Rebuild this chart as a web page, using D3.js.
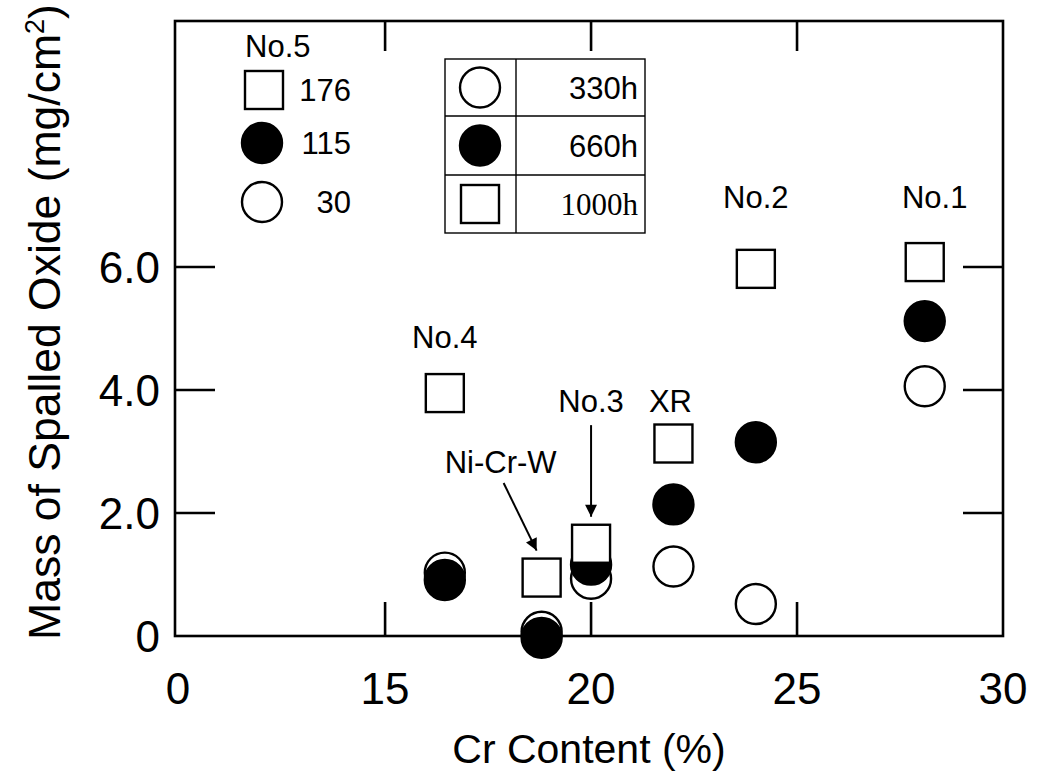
<!DOCTYPE html>
<html lang="en">
<head>
  <meta charset="UTF-8">
  <title>Mass of Spalled Oxide vs Cr Content</title>
  <style>
    body { margin: 0; background: #fff; }
    svg text { font-family: "Liberation Sans", Arial, Helvetica, sans-serif; fill: #000; }
    .frame { fill: none; stroke: #000; stroke-width: 2.6px; }
    .tick { stroke: #000; stroke-width: 2.6px; }
    .mk { stroke: #000; stroke-width: 2.4px; }
    .tbl { stroke: #000; stroke-width: 1.4px; fill: none; }
  </style>
</head>
<body>
  <svg id="chart" width="1040" height="774"></svg>

  <script src="https://d3js.org/d3.v7.min.js"></script>
  <script>
    // alloys and Cr content (%)
    const alloys = ["No.4", "Ni-Cr-W", "No.3", "XR", "No.2", "No.1"];
    const crContent = [16.45, 18.8, 20.0, 22.0, 24.0, 28.1];
    // mass of spalled oxide (mg/cm2) after each exposure time
    const mass330h = [1.03, 0.07, 0.93, 1.13, 0.52, 4.06];
    const mass660h = [0.91, -0.03, 1.16, 2.14, 3.15, 5.12];
    const mass1000h = [3.95, 0.95, 1.50, 3.13, 5.97, 6.08];

    // No.5 values (off scale), shown as text
    const no5Values = ["176", "115", "30"];
    const periods = ["330h", "660h", "1000h"];

    // axis ticks (x axis is broken: starts at "0")
    const xStart = 9.9;
    const xTicks = [xStart, 15, 20, 25, 30];
    const xTickLabels = ["0", "15", "20", "25", "30"];
    const yTicks = [0, 2, 4, 6];
    const yTickLabels = ["0", "2.0", "4.0", "6.0"];

    const svg = d3.select("#chart");
    const pLeft = 175, pRight = 1003, pTop = 21, pBottom = 636;

    const x = d3.scaleLinear().domain([xStart, 30]).range([pLeft, pRight]);
    const y = d3.scaleLinear().domain([0, 10]).range([pBottom, pTop]);

    const R = 20, S = 38;

    // inner ticks
    const xIn = xTicks.filter(d => d > xStart && d < 30);
    svg.selectAll(".xb").data(xIn).enter().append("line").attr("class", "tick")
      .attr("x1", d => x(d)).attr("x2", d => x(d)).attr("y1", pBottom).attr("y2", pBottom - 34);
    svg.selectAll(".xt").data(xIn).enter().append("line").attr("class", "tick")
      .attr("x1", d => x(d)).attr("x2", d => x(d)).attr("y1", pTop).attr("y2", pTop + 30);
    const yIn = yTicks.filter(d => d > 0);
    svg.selectAll(".yl").data(yIn).enter().append("line").attr("class", "tick")
      .attr("x1", pLeft).attr("x2", pLeft + 40).attr("y1", d => y(d)).attr("y2", d => y(d));
    svg.selectAll(".yr").data(yIn).enter().append("line").attr("class", "tick")
      .attr("x1", pRight).attr("x2", pRight - 40).attr("y1", d => y(d)).attr("y2", d => y(d));

    // frame
    svg.append("rect").attr("class", "frame")
      .attr("x", pLeft).attr("y", pTop).attr("width", pRight - pLeft).attr("height", pBottom - pTop);

    // tick labels
    svg.selectAll(".xl").data(xTicks).enter().append("text")
      .attr("x", (d, i) => x(d) + (i === 0 ? 3 : 0)).attr("y", 704)
      .attr("text-anchor", "middle").style("font-size", "44px")
      .text((d, i) => xTickLabels[i]);
    svg.selectAll(".yt").data(yTicks).enter().append("text")
      .attr("x", 160).attr("y", d => y(d) + 16)
      .attr("text-anchor", "end").style("font-size", "44px")
      .text((d, i) => yTickLabels[i]);

    // axis titles
    svg.append("text").attr("x", (pLeft + pRight) / 2).attr("y", 763)
      .attr("text-anchor", "middle").style("font-size", "41px").text("Cr Content (%)");
    const yt = svg.append("text").attr("transform", "translate(60,322) rotate(-90)")
      .attr("text-anchor", "middle").style("font-size", "44.5px");
    yt.append("tspan").text("Mass of Spalled Oxide (mg/cm");
    yt.append("tspan").attr("dy", -16).style("font-size", "27px").text("2");
    yt.append("tspan").attr("dy", 16).text(")");

    // markers
    const idx = d3.range(alloys.length);
    svg.selectAll(".o330").data(idx).enter().append("circle").attr("class", "mk")
      .attr("cx", i => x(crContent[i])).attr("cy", i => y(mass330h[i])).attr("r", R).attr("fill", "#fff");
    svg.selectAll(".o660").data(idx).enter().append("circle").attr("class", "mk")
      .attr("cx", i => x(crContent[i])).attr("cy", i => y(mass660h[i])).attr("r", R).attr("fill", "#000");
    svg.selectAll(".o1000").data(idx).enter().append("rect").attr("class", "mk")
      .attr("x", i => x(crContent[i]) - S / 2).attr("y", i => y(mass1000h[i]) - S / 2)
      .attr("width", S).attr("height", S).attr("fill", "#fff");

    // alloy labels (y in data units)
    const labelY = [4.68, 2.65, 3.64, 3.64, 6.96, 6.96];
    const labelDx = [0, -41, 0, -3, 0, 10];
    svg.selectAll(".al").data(idx).enter().append("text")
      .attr("x", i => x(crContent[i]) + labelDx[i]).attr("y", i => y(labelY[i]))
      .attr("text-anchor", "middle").style("font-size", "31px")
      .text(i => alloys[i]);

    // arrows
    const defs = svg.append("defs");
    defs.append("marker").attr("id", "ah").attr("viewBox", "0 0 10 10")
      .attr("refX", 10).attr("refY", 5).attr("markerWidth", 14).attr("markerHeight", 12)
      .attr("markerUnits", "userSpaceOnUse").attr("orient", "auto")
      .append("path").attr("d", "M0,0L10,5L0,10Z").attr("fill", "#000");
    const nw = 1, n3 = 2;
    svg.append("line").attr("class", "tick").style("stroke-width", "2px")
      .attr("x1", x(crContent[nw]) - 38).attr("y1", y(labelY[nw]) + 10)
      .attr("x2", x(crContent[nw]) - 5).attr("y2", y(mass1000h[nw]) - S / 2 - 8)
      .attr("marker-end", "url(#ah)");
    svg.append("line").attr("class", "tick").style("stroke-width", "2px")
      .attr("x1", x(crContent[n3])).attr("y1", y(labelY[n3]) + 13)
      .attr("x2", x(crContent[n3])).attr("y2", y(mass1000h[n3]) - S / 2 - 8)
      .attr("marker-end", "url(#ah)");

    // No.5 legend
    const g5 = svg.append("g");
    g5.append("text").attr("x", 245).attr("y", 57).style("font-size", "31px").text("No.5");
    const rowY5 = [90, 143, 202];
    g5.append("rect").attr("class", "mk").attr("x", 264 - S / 2).attr("y", rowY5[0] - S / 2)
      .attr("width", S).attr("height", S).attr("fill", "#fff");
    g5.append("circle").attr("class", "mk").attr("cx", 262).attr("cy", rowY5[1]).attr("r", R).attr("fill", "#000");
    g5.append("circle").attr("class", "mk").attr("cx", 262).attr("cy", rowY5[2]).attr("r", R).attr("fill", "#fff");
    g5.selectAll(".v5").data(no5Values).enter().append("text")
      .attr("x", 351).attr("y", (d, i) => rowY5[i] + 11).attr("text-anchor", "end")
      .style("font-size", "31px").text(d => d);

    // period table legend
    const tl = 445, tr = 645, tc = 516;
    const rowLines = [59, 116, 175, 233];
    const gt = svg.append("g");
    gt.append("rect").attr("class", "tbl").attr("x", tl).attr("y", rowLines[0])
      .attr("width", tr - tl).attr("height", rowLines[3] - rowLines[0]);
    gt.append("line").attr("class", "tbl").attr("x1", tc).attr("x2", tc).attr("y1", rowLines[0]).attr("y2", rowLines[3]);
    gt.selectAll(".rl").data(rowLines.slice(1, 3)).enter().append("line").attr("class", "tbl")
      .attr("x1", tl).attr("x2", tr).attr("y1", d => d).attr("y2", d => d);
    const rowMid = d3.range(3).map(i => (rowLines[i] + rowLines[i + 1]) / 2);
    gt.append("circle").attr("class", "mk").attr("cx", 480).attr("cy", rowMid[0]).attr("r", R).attr("fill", "#fff");
    gt.append("circle").attr("class", "mk").attr("cx", 480).attr("cy", rowMid[1]).attr("r", R).attr("fill", "#000");
    gt.append("rect").attr("class", "mk").attr("x", 480 - S / 2).attr("y", rowMid[2] - S / 2)
      .attr("width", S).attr("height", S).attr("fill", "#fff");
    gt.selectAll(".pl").data(periods).enter().append("text")
      .attr("x", 638).attr("y", (d, i) => rowMid[i] + 11).attr("text-anchor", "end")
      .style("font-size", "31px")
      .style("font-family", (d, i) => i === 2 ? "'Liberation Serif', 'Times New Roman', serif" : null)
      .text(d => d);
  </script>
</body>
</html>
